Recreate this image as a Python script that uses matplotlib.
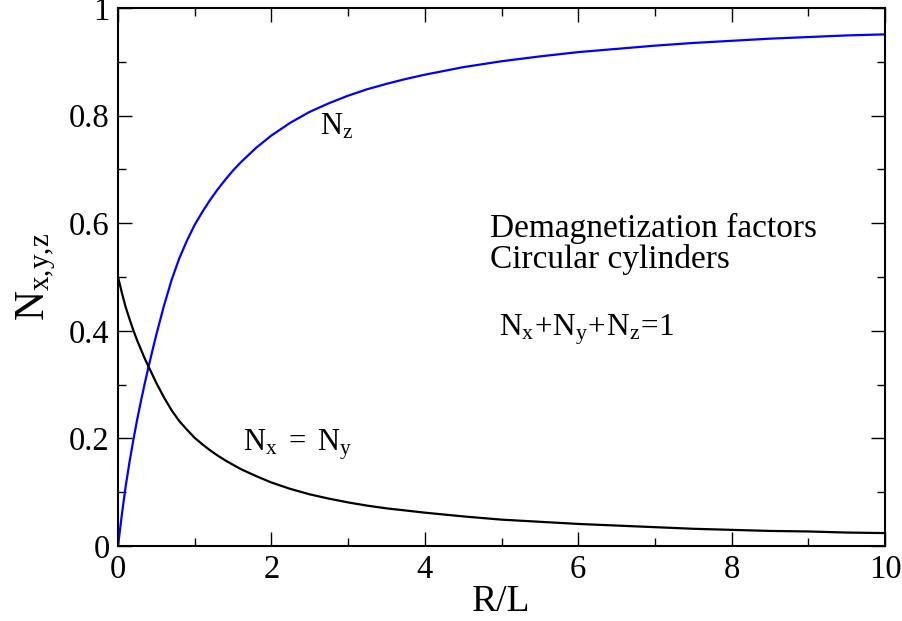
import numpy as np
import matplotlib
matplotlib.use("Agg")
import matplotlib.pyplot as plt
from matplotlib.ticker import MultipleLocator

plt.rcParams['font.family'] = ['Liberation Serif', 'DejaVu Serif']
plt.rcParams['mathtext.fontset'] = 'custom'
plt.rcParams['mathtext.rm'] = 'Liberation Serif'
plt.rcParams['mathtext.it'] = 'Liberation Serif:italic'

# R/L values and demagnetization factors
r_over_l = [0.0, 0.05, 0.1, 0.15, 0.2, 0.25, 0.3, 0.35, 0.4, 0.45, 0.5,
            0.6, 0.7, 0.8, 0.9, 1.0, 1.1, 1.2, 1.3, 1.4, 1.5, 1.6, 1.8,
            2.0, 2.25, 2.5, 2.75, 3.0, 3.25, 3.5, 3.75, 4.0, 4.5, 5.0,
            5.5, 6.0, 6.5, 7.0, 7.5, 8.0, 8.5, 9.0, 9.5, 10.0]
n_z = [0.000, 0.058, 0.111, 0.156, 0.197, 0.235, 0.270, 0.303, 0.334, 0.364, 0.393,
       0.447, 0.495, 0.535, 0.568, 0.597, 0.621, 0.643, 0.663, 0.681, 0.698, 0.713, 0.740,
       0.763, 0.787, 0.807, 0.823, 0.837, 0.849, 0.859, 0.868, 0.876, 0.890, 0.901,
       0.910, 0.918, 0.924, 0.930, 0.935, 0.939, 0.943, 0.946, 0.949, 0.951]
n_xy = [0.500, 0.471, 0.444, 0.422, 0.401, 0.382, 0.365, 0.348, 0.333, 0.318, 0.303,
        0.276, 0.252, 0.232, 0.216, 0.201, 0.189, 0.178, 0.168, 0.159, 0.151, 0.143, 0.130,
        0.118, 0.106, 0.096, 0.088, 0.081, 0.075, 0.070, 0.066, 0.062, 0.055, 0.049,
        0.045, 0.041, 0.038, 0.035, 0.032, 0.030, 0.028, 0.027, 0.025, 0.024]

fig = plt.figure(figsize=(9.02, 6.21), dpi=100)
ax = fig.add_axes([118/902, 75/621, 767/902, 538/621])

ax.plot(r_over_l, n_z, color='#0000ff', lw=1.6)
ax.plot(r_over_l, n_xy, color='black', lw=1.6)

ax.set_xlim(0, 10)
ax.set_ylim(0, 1)
ax.xaxis.set_major_locator(MultipleLocator(2))
ax.xaxis.set_minor_locator(MultipleLocator(1))
ax.yaxis.set_major_locator(MultipleLocator(0.2))
ax.yaxis.set_minor_locator(MultipleLocator(0.1))
ax.xaxis.set_major_formatter(plt.FuncFormatter(lambda v, p: '%g' % v))
ax.yaxis.set_major_formatter(plt.FuncFormatter(lambda v, p: '%g' % v))

ax.tick_params(which='both', direction='in', top=True, right=True, width=1.0,
               labelsize=23.5, pad=6)
ax.tick_params(which='major', length=10)
ax.tick_params(which='minor', length=5.5)
for s in ax.spines.values():
    s.set_linewidth(1.5)

ax.set_xlabel('R/L', fontsize=27, labelpad=0)
ax.set_ylabel(r'$\mathrm{N}_{\mathrm{x{,}y{,}z}}$', fontsize=30, labelpad=8)

ax.text(2.63, 0.764, r'$\mathrm{N}_{\mathrm{z}}$', fontsize=22, va='baseline')
ax.text(1.63, 0.178, r'$\mathrm{N}_{\mathrm{x}}\ =\ \mathrm{N}_{\mathrm{y}}$', fontsize=22, va='baseline')
ax.text(4.85, 0.575, 'Demagnetization factors', fontsize=24, va='baseline')
ax.text(4.85, 0.517, 'Circular cylinders', fontsize=24, va='baseline')
ax.text(4.97, 0.392, r'$\mathrm{N}_{\mathrm{x}}\!+\!\mathrm{N}_{\mathrm{y}}\!+\!\mathrm{N}_{\mathrm{z}}\!=\!1$',
        fontsize=22.5, va='baseline')

fig.savefig('out.png', dpi=100)
